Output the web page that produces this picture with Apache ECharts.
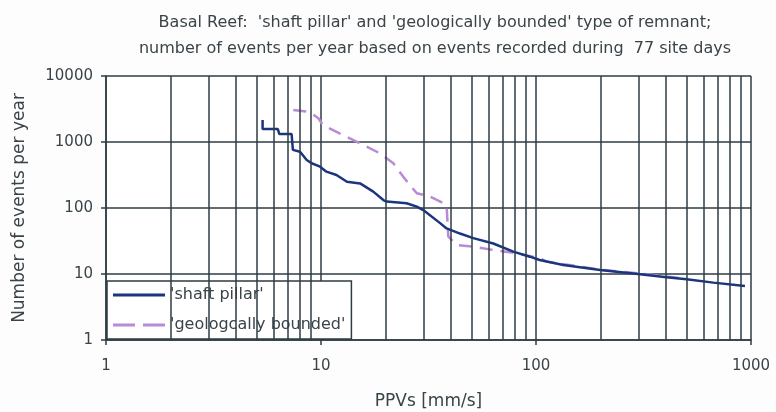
<!DOCTYPE html>
<html>
<head>
<meta charset="utf-8">
<script src="https://cdn.jsdelivr.net/npm/echarts@6/dist/echarts.min.js"></script>
<style>
  html, body { margin: 0; padding: 0; background: #fdfdfd; }
  #main { width: 776px; height: 412px; }
</style>
</head>
<body>
<div id="main"></div>
<script>
// 'shaft pillar' curve (PPV mm/s, events per year)
const shaftPpv = [5.35, 5.35, 6.3, 6.4, 7.3, 7.4, 7.99, 8.58, 9.05, 9.9, 10.6, 11.8, 13.2, 15.2, 17.5, 19.5, 20.2, 25, 27.9, 29.9, 35.8, 38.4, 44.3, 51.1, 63.3, 78.4, 93.7, 104, 134, 199, 305, 405, 502, 668, 937];
const shaftEvents = [2150, 1570, 1570, 1320, 1320, 760, 713, 534, 476, 423, 355, 316, 250, 236, 177, 132, 125, 118, 105, 93, 59, 49, 41, 35, 29, 21.8, 18.3, 16.3, 13.7, 11.5, 9.9, 8.9, 8.3, 7.4, 6.6];

// 'geologically bounded' curve
const geoPpv = [7.43, 8.58, 9.05, 9.72, 10.2, 12.2, 15.2, 18.8, 21.7, 24.1, 25.9, 27.9, 32.1, 37.1, 38.4, 39.1, 42.8, 51.1, 63.3, 81.3, 104, 112, 200, 352, 500];
const geoEvents = [3050, 2880, 2700, 2290, 1810, 1350, 955, 673, 476, 299, 223, 167, 149, 118, 105, 36.9, 27.5, 26, 23.1, 20.6, 17.3, 15.4, 11.6, 9.7, 8.4];

// vertical minor grid lines (2..9 in every decade)
const minorX = [2, 3, 4, 5, 6, 7, 8, 9, 20, 30, 40, 50, 60, 70, 80, 90, 200, 300, 400, 500, 600, 700, 800, 900];

const titleLines = [
  "Basal Reef:  'shaft pillar' and 'geologically bounded' type of remnant;",
  'number of events per year based on events recorded during  77 site days',
];

const pair = (xs, ys) => xs.map((x, i) => [x, ys[i]]);

const gridColor = '#2e3d44';
const textColor = '#3a4448';
const font = 'DejaVu Sans';

const chart = echarts.init(document.getElementById('main'));
const option = {
  backgroundColor: '#fdfdfd',
  animation: false,
  textStyle: { fontFamily: font },
  title: {
    text: titleLines.join('\n'),
    left: 430,
    top: 5,
    textAlign: 'center',
    textStyle: { fontSize: 16, lineHeight: 26, fontWeight: 'normal', color: textColor, fontFamily: font },
  },
  grid: {
    left: 106,
    right: 25,
    top: 76,
    bottom: 72,
    outerBoundsMode: 'none',
    backgroundColor: '#ffffff',
    show: true,
    borderWidth: 0,
  },
  legend: {
    orient: 'vertical',
    left: 107,
    bottom: 73,
    padding: [6, 6, 6, 6],
    itemGap: 14,
    itemWidth: 52,
    itemHeight: 3,
    backgroundColor: '#ffffff',
    borderColor: gridColor,
    borderWidth: 1.5,
    borderRadius: 0,
    textStyle: { fontSize: 16, color: textColor, fontFamily: font },
    data: [
      { name: "'shaft pillar'", icon: 'path://M0,0H52V3H0Z' },
      { name: "'geologcally bounded'", icon: 'path://M0,0H22V3H0Z M30,0H52V3H30Z' },
    ],
  },
  xAxis: {
    type: 'log',
    logBase: 10,
    min: 1,
    max: 1000,
    name: 'PPVs [mm/s]',
    nameLocation: 'middle',
    nameGap: 53,
    nameTextStyle: { fontSize: 17, color: textColor },
    axisLine: { lineStyle: { color: gridColor, width: 1.5 } },
    axisTick: { show: true, length: 5, lineStyle: { color: gridColor, width: 1.5 } },
    axisLabel: { fontSize: 15, color: textColor, margin: 19, formatter: v => String(v) },
    splitLine: { show: true, lineStyle: { color: gridColor, width: 1.5 } },
  },
  yAxis: {
    type: 'log',
    logBase: 10,
    min: 1,
    max: 10000,
    name: 'Number of events per year',
    nameLocation: 'middle',
    nameGap: 78,
    nameTextStyle: { fontSize: 17, color: textColor },
    axisLine: { show: true, lineStyle: { color: gridColor, width: 1.5 } },
    axisTick: { show: true, length: 5, lineStyle: { color: gridColor, width: 1.5 } },
    axisLabel: { fontSize: 15, color: textColor, margin: 13, formatter: v => String(v) },
    splitLine: { show: true, lineStyle: { color: gridColor, width: 1.5 } },
  },
  series: [
    {
      name: 'grid',
      type: 'line',
      data: [],
      z: 1,
      silent: true,
      markLine: {
        silent: true,
        symbol: 'none',
        label: { show: false },
        lineStyle: { color: gridColor, width: 1.5, type: 'solid' },
        data: minorX.map(v => ({ xAxis: v })),
      },
    },
    {
      name: "'geologcally bounded'",
      type: 'line',
      data: pair(geoPpv, geoEvents),
      showSymbol: false,
      symbol: 'none',
      z: 3,
      lineStyle: { color: '#b98ad6', width: 2.5, type: [13, 8] },
      itemStyle: { color: '#b98ad6' },
    },
    {
      name: "'shaft pillar'",
      type: 'line',
      data: pair(shaftPpv, shaftEvents),
      showSymbol: false,
      symbol: 'none',
      z: 4,
      lineStyle: { color: '#1b357e', width: 2.5 },
      itemStyle: { color: '#1b357e' },
    },
  ],
};
chart.setOption(option);
</script>
</body>
</html>
